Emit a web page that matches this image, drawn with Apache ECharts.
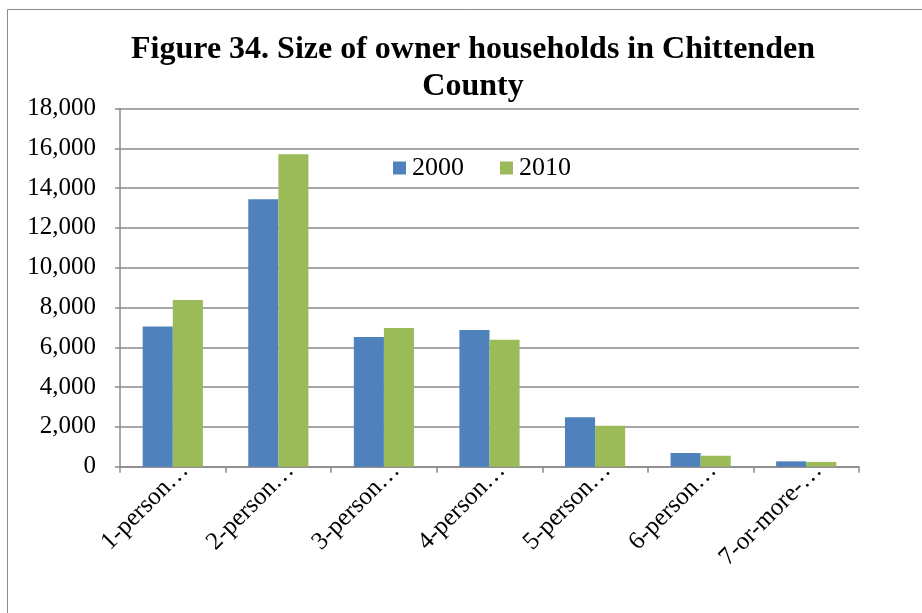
<!DOCTYPE html>
<html>
<head>
<meta charset="utf-8">
<script src="https://cdn.jsdelivr.net/npm/echarts@6/dist/echarts.min.js"></script>
<style>
  html, body { margin: 0; padding: 0; background: #fff; }
  #chart { width: 922px; height: 613px; }
</style>
</head>
<body>
<div id="chart"></div>
<script>
// Owner households by household size, Chittenden County
const categories = ['1-person…', '2-person…', '3-person…', '4-person…', '5-person…', '6-person…', '7-or-more-…'];
const households2000 = [7040, 13440, 6520, 6870, 2480, 690, 270];
const households2010 = [8380, 15700, 6970, 6380, 2060, 550, 240];
const yTicks = { min: 0, max: 18000, interval: 2000 };

const serif = '"Liberation Serif", "DejaVu Serif", serif';
const chart = echarts.init(document.getElementById('chart'));

chart.setOption({
  animation: false,
  backgroundColor: '#ffffff',
  graphic: [{
    type: 'rect',
    shape: { x: 7.5, y: 9.5, width: 930, height: 620 },
    style: { fill: 'none', stroke: '#8a8a8a', lineWidth: 1 },
    silent: true
  }],
  title: {
    text: 'Figure 34. Size of owner households in Chittenden\nCounty',
    left: 468,
    textAlign: 'center',
    top: 26,
    textStyle: {
      fontFamily: serif,
      fontWeight: 'bold',
      fontSize: 32,
      lineHeight: 37,
      color: '#000'
    }
  },
  legend: {
    left: 388,
    top: 150,
    itemWidth: 13,
    itemHeight: 13,
    itemGap: 36,
    icon: 'rect',
    textStyle: { fontFamily: serif, fontSize: 26, color: '#000', padding: [0, 0, 0, 1] },
    data: ['2000', '2010']
  },
  grid: { left: 120, right: 63, top: 108.5, bottom: 146.3, containLabel: false },
  xAxis: {
    type: 'category',
    data: categories,
    axisLine: { lineStyle: { color: '#8a8a8a', width: 1.5 } },
    axisTick: { show: true, length: 6, lineStyle: { color: '#8a8a8a', width: 1.5 } },
    axisLabel: {
      rotate: 45,
      interval: 0,
      margin: 12,
      padding: [56, -17, 0, 0],
      fontFamily: serif,
      fontSize: 25,
      color: '#000'
    }
  },
  yAxis: {
    type: 'value',
    min: yTicks.min,
    max: yTicks.max,
    interval: yTicks.interval,
    axisLine: { show: true, lineStyle: { color: '#8a8a8a', width: 1.5 } },
    axisTick: { show: true, length: 5, lineStyle: { color: '#8a8a8a', width: 1.5 } },
    splitLine: { lineStyle: { color: '#8a8a8a', width: 1.5 } },
    axisLabel: {
      margin: 24,
      fontFamily: serif,
      fontSize: 25,
      color: '#000',
      formatter: v => v.toLocaleString('en-US')
    }
  },
  series: [
    {
      name: '2000',
      type: 'bar',
      data: households2000,
      barGap: '0%',
      barCategoryGap: '43%',
      itemStyle: { color: '#4F81BD' }
    },
    {
      name: '2010',
      type: 'bar',
      data: households2010,
      barGap: '0%',
      barCategoryGap: '43%',
      itemStyle: { color: '#9BBB59' }
    }
  ]
});
</script>
</body>
</html>
